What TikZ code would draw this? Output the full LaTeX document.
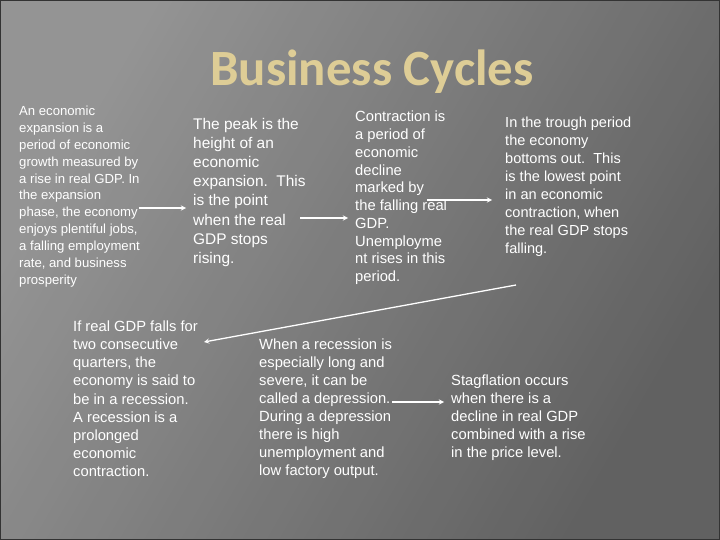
\documentclass[tikz,border=0pt]{standalone}
\usepackage{fontspec}
\setmainfont{Liberation Sans}
\newfontfamily\titlefont{Carlito}
\begin{document}
\begin{tikzpicture}[x=1bp,y=-1bp,
  txt/.style={anchor=north west,inner sep=0,align=left,text=white},
  arr/.style={draw=white,line width=1.3pt,-stealth}]
\useasboundingbox (0,0) rectangle (720,540);
\fill[black!62] (0,0) rectangle (720,540);
\shade[left color=black!38,right color=black!62,shading angle=60,opacity=0.85] (0,0) rectangle (720,540);
\draw[black!80,line width=1pt] (0.5,0.5) rectangle (719.5,539.5);
\node[anchor=center,text={rgb,255:red,222;green,205;blue,150},font=\titlefont\bfseries\fontsize{51}{53}\selectfont] (title) at (372,72) {Business Cycles};
\node[txt,font=\fontsize{13.2}{16.9}\selectfont] (exp) at (19,106) {An economic\\expansion is a\\period of economic\\growth measured by\\a rise in real GDP. In\\the expansion\\phase, the economy\\enjoys plentiful jobs,\\a falling employment\\rate, and business\\prosperity};
\node[txt,font=\fontsize{15.5}{19.2}\selectfont] (peak) at (193,118) {The peak is the\\height of an\\economic\\expansion.\ \ This\\is the point\\when the real\\GDP stops\\rising.};
\node[txt,font=\fontsize{14.8}{17.8}\selectfont] (con) at (355,111) {Contraction is\\a period of\\economic\\decline\\marked by\\the falling real\\GDP.\\Unemployme\\nt rises in this\\period.};
\node[txt,font=\fontsize{14.6}{18}\selectfont] (tro) at (505,117) {In the trough period\\the economy\\bottoms out.\ \ This\\is the lowest point\\in an economic\\contraction, when\\the real GDP stops\\falling.};
\node[txt,font=\fontsize{14.8}{18.1}\selectfont] (rec) at (73,321) {If real GDP falls for\\two consecutive\\quarters, the\\economy is said to\\be in a recession.\\A recession is a\\prolonged\\economic\\contraction.};
\node[txt,font=\fontsize{14.8}{18}\selectfont] (dep) at (259,339) {When a recession is\\especially long and\\severe, it can be\\called a depression.\\During a depression\\there is high\\unemployment and\\low factory output.};
\node[txt,font=\fontsize{14.8}{18}\selectfont] (sta) at (451,375) {Stagflation occurs\\when there is a\\decline in real GDP\\combined with a rise\\in the price level.};
\coordinate (a1s) at (139,208); \coordinate (a1e) at (186,208);
\coordinate (a2s) at (300,218); \coordinate (a2e) at (348,218);
\coordinate (a3s) at (427,200); \coordinate (a3e) at (492,200);
\coordinate (a4s) at (516,285); \coordinate (a4e) at (204,342);
\coordinate (a5s) at (392,402); \coordinate (a5e) at (444,402);
\draw[arr] (a1s) -- (a1e);
\draw[arr] (a2s) -- (a2e);
\draw[arr] (a3s) -- (a3e);
\draw[arr] (a4s) -- (a4e);
\draw[arr] (a5s) -- (a5e);
\end{tikzpicture}
\end{document}
